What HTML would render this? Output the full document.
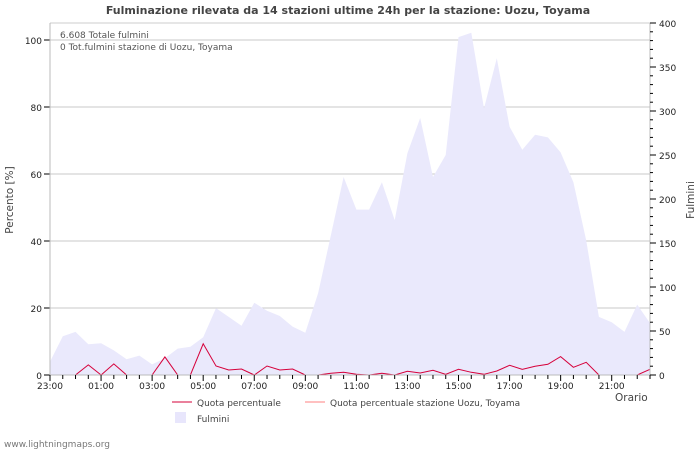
<!DOCTYPE html>
<html><head><meta charset="utf-8"><style>
html,body{margin:0;padding:0;background:#fff;}
svg{display:block;font-family:"DejaVu Sans","Liberation Sans",sans-serif;}
</style></head><body>
<svg id="chart" width="700" height="450" viewBox="0 0 700 450">
<text x="348" y="14" text-anchor="middle" font-size="11" font-weight="bold" fill="#444">Fulminazione rilevata da 14 stazioni ultime 24h per la stazione: Uozu, Toyama</text>
<g id="grid"></g>
<g id="area"></g>
<g id="lines"></g>
<g id="axes"></g>
<text x="60" y="38" font-size="9" fill="#555">6.608 Totale fulmini</text>
<text x="60" y="50" font-size="9" fill="#555">0 Tot.fulmini stazione di Uozu, Toyama</text>
<text transform="translate(13,200) rotate(-90)" text-anchor="middle" font-size="10.5" fill="#444">Percento   [%]</text>
<text transform="translate(694,200) rotate(-90)" text-anchor="middle" font-size="10.5" fill="#444">Fulmini</text>
<text x="615" y="401" font-size="10.5" fill="#444">Orario</text>
<g>
<line x1="172" y1="402" x2="192" y2="402" stroke="#d6003a" stroke-width="1"/>
<text x="197" y="406" font-size="9" fill="#444">Quota percentuale</text>
<line x1="305" y1="402" x2="325" y2="402" stroke="#ff8080" stroke-width="1"/>
<text x="330" y="406" font-size="9" fill="#444">Quota percentuale stazione Uozu, Toyama</text>
<rect x="175" y="412" width="11" height="11" fill="#e8e6fc"/>
<text x="197" y="422" font-size="9" fill="#444">Fulmini</text>
</g>
<text x="4" y="447" font-size="9" fill="#777">www.lightningmaps.org</text>
</svg>
<script>
const strikes=[15,44,49,35,36,28,18,22,12,19,30,32,43,76,66,56,82,73,67,55,48,93,159,225,188,188,219,176,252,292,225,250,384,389,303,360,282,256,273,270,253,219,153,66,60,49,80,59];
const percent=[null,null,0,3,0,3.3,0,null,0,5.4,0,0,9.3,2.7,1.5,1.8,0,2.7,1.5,1.8,0,0,0.5,0.8,0.2,0,0.5,0,1.1,0.6,1.4,0.2,1.7,0.8,0.2,1.2,2.9,1.7,2.6,3.2,5.5,2.3,3.8,0,0,0,0,1.7];
const xLabels=["23:00","01:00","03:00","05:00","07:00","09:00","11:00","13:00","15:00","17:00","19:00","21:00"];
const leftTicks=[0,20,40,60,80,100];
const rightTicks=[0,50,100,150,200,250,300,350,400];

const NS="http://www.w3.org/2000/svg";
const X0=50,X1=650,Y0=375,YT=23;
const n=strikes.length;
const xs=i=>X0+i*(X1-X0)/(n-1);
const hourX=h=>X0+h*(X1-X0)/((n-1)/2);
const yL=v=>Y0-v*3.35;
const yR=v=>Y0-v*(Y0-YT)/400;
function mk(tag,attrs,parent){const e=document.createElementNS(NS,tag);for(const k in attrs)e.setAttribute(k,attrs[k]);parent.appendChild(e);return e;}
const grid=document.getElementById('grid'),area=document.getElementById('area'),lines=document.getElementById('lines'),axes=document.getElementById('axes');

let g=mk('line',{x1:X0,y1:YT,x2:X1,y2:YT,stroke:'#ccc'},grid);


leftTicks.forEach(v=>{
 const y=yL(v);
 if(v>0){const l=mk('line',{x1:X0,y1:y,x2:X1,y2:y,stroke:'#c8c8c8'},grid);
 
 }
 const t=mk('line',{x1:X0-6,y1:y,x2:X0,y2:y,stroke:'#000'},axes);
 
 
 const tx=mk('text',{x:X0-8,y:y+4,'text-anchor':'end','font-size':'9',fill:'#222'},axes);
 tx.textContent=v;
 
 
});

let d='M'+xs(0)+','+Y0;
strikes.forEach((v,i)=>{d+=' L'+xs(i).toFixed(1)+','+yR(v).toFixed(1);});
d+=' L'+xs(n-1)+','+Y0+' Z';
const ap=mk('path',{d:d,fill:'#eae9fc'},area);



let segs=[],cur='';
percent.forEach((v,i)=>{
 if(v===null){if(cur)segs.push(cur);cur='';return;}
 cur+=(cur?' L':'M')+xs(i).toFixed(1)+','+yL(v).toFixed(1);
});
if(cur)segs.push(cur);
const lp=mk('path',{d:segs.join(' '),fill:'none',stroke:'#d6003a','stroke-width':1},lines);



let a=mk('line',{x1:X0,y1:YT,x2:X0,y2:Y0,stroke:'#bbb'},axes);


a=mk('line',{x1:X1,y1:YT,x2:X1,y2:Y0,stroke:'#bbb'},axes);


a=mk('line',{x1:X0,y1:Y0,x2:X1,y2:Y0,stroke:'#bbb'},axes);



for(let v=0;v<=400;v+=10){
 const y=yR(v),major=v%50===0;
 const t=mk('line',{x1:X1,y1:y,x2:X1+(major?6:3),y2:y,stroke:'#000'},axes);
 
 
}
rightTicks.forEach(v=>{
 const tx=mk('text',{x:X1+9,y:yR(v)+4,'font-size':'9',fill:'#222'},axes);
 tx.textContent=v;
 
 
});
for(let i=0;i<n;i++){
 const x=xs(i),major=i%4===0;
 const t=mk('line',{x1:x,y1:Y0,x2:x,y2:Y0+(major?6:4),stroke:'#000'},axes);
 
 
}
xLabels.forEach((s,k)=>{
 const tx=mk('text',{x:hourX(k*2),y:Y0+14,'text-anchor':'middle','font-size':'9',fill:'#222'},axes);
 tx.textContent=s;
 
 
});
</script>
</body></html>
